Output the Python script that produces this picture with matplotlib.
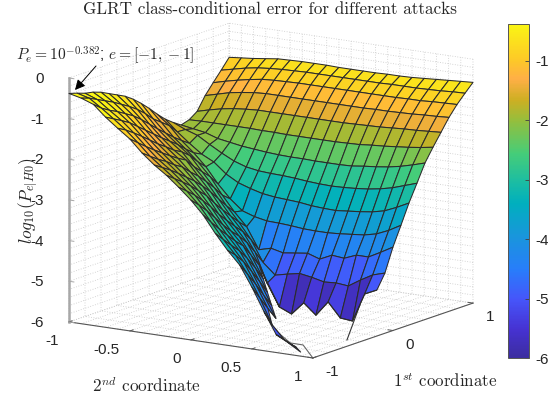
import warnings
import numpy as np
import matplotlib
matplotlib.use("Agg")
import matplotlib.pyplot as plt
from matplotlib.colors import LinearSegmentedColormap, Normalize
from matplotlib.cm import ScalarMappable
from matplotlib.transforms import Affine2D
from mpl_toolkits.mplot3d import proj3d

warnings.filterwarnings('ignore')
N = np.nan
first_coord = [-1 + 0.1 * k for k in range(21)]
second_coord = [-1 + 0.1 * k for k in range(21)]

# one row per value of the 1st coordinate, from -1 to 1
r00 = [-.38,-.45,-.56,-.83,-1.06,-1.28,-1.58,-1.83,-2.04,-2.29,-2.56,-2.88,-3.29,-3.66,-3.98,-4.48,-5.04,-5.56,-5.72,-5.90,N]
r01 = [-.44,-.52,-.72,-.94,-1.17,-1.44,-1.73,-1.96,-2.19,-2.45,-2.75,-3.13,-3.51,-3.85,-4.28,-4.82,-5.43,-5.75,-5.90,N,N]
r02 = [-.51,-.62,-.84,-1.05,-1.31,-1.60,-1.87,-2.09,-2.34,-2.62,-2.96,-3.36,-3.72,-4.08,-4.59,-5.14,N,N,N,N,N]
r03 = [-.55,-.72,-.94,-1.17,-1.46,-1.75,-1.99,-2.24,-2.50,-2.82,-3.20,-3.58,-3.92,-4.38,-4.93,-5.45,N,N,N,N,N]
r04 = [-.62,-.82,-1.06,-1.33,-1.62,-1.89,-2.14,-2.40,-2.69,-3.04,-3.44,-3.79,-4.18,-4.70,-5.25,N,N,N,N,N,N]
r05 = [-.72,-.94,-1.18,-1.49,-1.78,-2.03,-2.26,-2.56,-2.88,-3.29,-3.66,-3.98,-4.48,-5.04,N,N,N,N,N,N,N]
r06 = [-.82,-1.06,-1.34,-1.65,-1.92,-2.16,-2.45,-2.75,-3.13,-3.51,-3.85,-4.28,-4.82,N,N,N,N,N,N,N,N]
r07 = [-.92,-1.20,-1.52,-1.81,-2.07,-2.27,-2.62,-2.96,-3.36,-3.72,-4.08,-4.59,N,N,N,N,N,N,N,N,N]
r08 = [-1.06,-1.37,-1.70,-1.96,-2.18,-2.50,-2.82,-3.20,-3.58,-3.92,-4.38,-5.10,-5.64,-5.77,-5.45,-5.71,-5.34,-5.69,-5.72,-5.01,-4.87]
r09 = [-1.23,-1.57,-1.87,-2.11,-2.34,-2.69,-3.04,-3.44,-3.79,-4.18,-4.70,-4.97,-4.90,-4.84,-4.89,-4.96,-4.94,-4.97,-4.78,-4.61,-4.52]
r10 = [-1.42,-1.72,-2.04,-2.29,-2.56,-2.88,-3.29,-3.66,-3.98,-4.50,-4.42,-4.49,-4.45,-4.41,-4.51,-4.37,-4.40,-4.28,-4.28,-4.12,-3.95]
r11 = [-1.63,-1.87,-2.19,-2.45,-2.75,-3.13,-3.45,-3.70,-3.80,-3.86,-3.87,-3.89,-3.92,-3.93,-3.93,-3.91,-3.88,-3.85,-3.78,-3.65,-3.48]
r12 = [-1.82,-2.09,-2.33,-2.55,-2.70,-2.95,-3.12,-3.22,-3.30,-3.34,-3.36,-3.38,-3.42,-3.44,-3.45,-3.42,-3.39,-3.35,-3.28,-3.15,-3.00]
r13 = [-1.97,-2.10,-2.20,-2.38,-2.55,-2.70,-2.80,-2.85,-2.87,-2.88,-2.90,-2.93,-2.95,-2.96,-2.95,-2.93,-2.90,-2.85,-2.78,-2.68,-2.58]
r14 = [-2.10,-2.15,-2.20,-2.30,-2.35,-2.40,-2.43,-2.46,-2.48,-2.49,-2.49,-2.50,-2.50,-2.50,-2.49,-2.45,-2.42,-2.38,-2.32,-2.24,-2.15]
r15 = [-2.04,-2.03,-2.03,-2.03,-2.03,-2.03,-2.04,-2.04,-2.05,-2.05,-2.05,-2.05,-2.05,-2.04,-2.03,-2.00,-1.98,-1.95,-1.92,-1.88,-1.83]
r16 = [-1.90,-1.82,-1.75,-1.70,-1.67,-1.65,-1.65,-1.65,-1.65,-1.65,-1.65,-1.65,-1.65,-1.64,-1.63,-1.62,-1.60,-1.58,-1.57,-1.55,-1.53]
r17 = [-1.58,-1.50,-1.42,-1.37,-1.33,-1.31,-1.31,-1.31,-1.31,-1.31,-1.31,-1.31,-1.31,-1.31,-1.30,-1.30,-1.29,-1.28,-1.26,-1.25,-1.23]
r18 = [-1.33,-1.25,-1.18,-1.12,-1.07,-1.05,-1.04,-1.03,-1.03,-1.03,-1.03,-1.03,-1.03,-1.03,-1.03,-1.03,-1.02,-1.02,-1.00,-.99,-.98]
r19 = [-1.09,-1.02,-.95,-.90,-.87,-.85,-.84,-.83,-.83,-.83,-.83,-.83,-.83,-.83,-.82,-.82,-.82,-.81,-.80,-.78,-.77]
r20 = [-.84,-.81,-.78,-.74,-.70,-.69,-.68,-.68,-.68,-.69,-.69,-.69,-.69,-.68,-.68,-.67,-.65,-.63,-.61,-.59,-.57]
rows = [r00,r01,r02,r03,r04,r05,r06,r07,r08,r09,r10,r11,r12,r13,r14,r15,r16,r17,r18,r19,r20]

# edges of the surface that reach the floor where the error vanishes
edge_a_second = [0.895, 0.90]
edge_a_first = [-0.414, -0.26]
edge_a_z = [-6.0, -5.24]
edge_b_second = [1.0, 0.727, 0.62, 0.386]
edge_b_first = [-1.0, -0.706, -0.703, -0.493]
edge_b_z = [-6.0, -6.0, -6.0, -6.0]

second_ticks = [-1, -0.5, 0, 0.5, 1]
second_labels = ['-1', '-0.5', '0', '0.5', '1']
first_ticks = [-1, 0, 1]
first_labels = ['-1', '0', '1']
z_ticks = [-6, -5, -4, -3, -2, -1, 0]
z_labels = ['-6', '-5', '-4', '-3', '-2', '-1', '0']
cbar_ticks = [-6, -5, -4, -3, -2, -1]
cbar_labels = ['-6', '-5', '-4', '-3', '-2', '-1']
z_min, z_peak = -6.0, -0.382
perspective_lift = 0.035

cmap_stops = [0.0, 0.085, 0.174, 0.264, 0.364, 0.463, 0.533, 0.613, 0.713, 0.773, 0.837, 0.892, 1.0]
cmap_rgb = [(60, 45, 160), (70, 50, 210), (70, 85, 250), (40, 125, 250), (25, 150, 220),
            (0, 175, 190), (30, 190, 160), (70, 205, 120), (150, 190, 60), (205, 175, 35),
            (255, 175, 70), (253, 200, 40), (250, 245, 20)]
parula = LinearSegmentedColormap.from_list(
    'parula', [(s, tuple(c / 255 for c in rgb)) for s, rgb in zip(cmap_stops, cmap_rgb)], N=256)

W, H = 556, 401
plt.rcParams['font.family'] = ['Liberation Sans', 'DejaVu Sans']
plt.rcParams['mathtext.fontset'] = 'cm'
fig = plt.figure(figsize=(W / 100, H / 100), dpi=100, facecolor='white')
ax = fig.add_axes([0, 0, 1, 1], projection='3d', proj_type='ortho', facecolor='none')
ax.view_init(elev=13, azim=-56.7)
ax.set_box_aspect((1, 1, 0.858))
ax.set_xlim(-1, 1); ax.set_ylim(-1, 1); ax.set_zlim(-6, 0)

Z = np.array(rows, dtype=float)
X, Y = np.meshgrid(second_coord, first_coord)
norm = Normalize(z_min, z_peak)
Z_fill = np.nan_to_num(Z, nan=z_min)
colors = parula(norm(Z_fill + perspective_lift * (Z_fill - z_min)))
ax.plot_surface(X, Y, Z, rstride=1, cstride=1, facecolors=colors, shade=False,
                edgecolor='#2b2b2b', linewidth=0.75, antialiased=True)
ax.plot(edge_a_second, edge_a_first, edge_a_z, color='#333333', lw=0.8)
ax.plot(edge_b_second, edge_b_first, edge_b_z, color='#666666', lw=0.8)

# fine dotted grid, only the coarse ticks carry labels
fine_x = [-1 + 0.1 * k for k in range(21)]
fine_y = [-1 + 0.2 * k for k in range(11)]
fine_z = [-6 + 0.2 * k for k in range(31)]
ax.set_xticks(fine_x); ax.set_yticks(fine_y); ax.set_zticks(fine_z)
def lab(fine, ticks, labels):
    return [next((l for t, l in zip(ticks, labels) if abs(t - v) < 1e-6), '') for v in fine]
ax.set_xticklabels(lab(fine_x, second_ticks, second_labels))
ax.set_yticklabels(lab(fine_y, first_ticks, first_labels))
ax.set_zticklabels(lab(fine_z, z_ticks, z_labels))
for a, col in ((ax.xaxis, '#555555'), (ax.yaxis, '#555555'), (ax.zaxis, '#a8a8a8')):
    a.set_pane_color((1, 1, 1, 0))
    a.pane.set_edgecolor((1, 1, 1, 0))
    a._axinfo['grid'].update(color='#c8c8c8', linewidth=0.6, linestyle=(0, (1, 2)))
    a._axinfo['tick'].update(inward_factor=0, outward_factor=0)
    a._axinfo['axisline'].update(color=col, linewidth=1.0)
    a.line.set_color(col)
ax.zaxis.line.set_linewidth(1.8)
ax.tick_params(axis='both', labelsize=11, labelcolor='#262626', colors='#262626', pad=0)
ax.xaxis.set_tick_params(pad=3)
ax.yaxis.set_tick_params(pad=1)
ax.zaxis.set_tick_params(pad=3)
ax.zaxis.set_ticks_position('lower')
ax.zaxis.set_label_position('lower')

# short inward tick marks on the labelled positions
for v in second_ticks:
    ax.plot([v, v], [-1, -0.96], [-6, -6], color='#555555', lw=0.7)
for v in first_ticks:
    ax.plot([1, 0.96], [v, v], [-6, -6], color='#555555', lw=0.7)
for v in z_ticks:
    ax.plot([-1, -0.96], [-1, -1], [v, v], color='#a8a8a8', lw=0.7)

# fit the axes box to the reference floor corners
def px(x, y, z):
    xs, ys, _ = proj3d.proj_transform(x, y, z, ax.get_proj())
    return ax.transData.transform((xs, ys))
fig.canvas.draw()
target_l = np.array([69, H - 322.0]); target_r = np.array([473, H - 303.0])
for _ in range(3):
    pl, pr = px(-1, -1, -6), px(1, 1, -6)
    s = np.linalg.norm(target_r - target_l) / np.linalg.norm(pr - pl)
    pos = ax.get_position(original=True)
    w, h = pos.width * W * s, pos.height * H * s
    mid_now = (pl + pr) / 2
    c = np.array([pos.x0 * W + pos.width * W / 2, pos.y0 * H + pos.height * H / 2])
    c_new = (target_l + target_r) / 2 + (c - mid_now) * s
    ax.set_position([(c_new[0] - w / 2) / W, (c_new[1] - h / 2) / H, w / W, h / H])
    fig.canvas.draw()

# nudge tick labels (pixels) and align them as in the reference
def nudge(axis, dx, dy, ha):
    for t in axis.get_major_ticks():
        t.label1.set_transform(ax.transData + Affine2D().translate(dx, dy))
        t.label1.set_ha(ha)
        t.label1.set_va('center')
nudge(ax.xaxis, -2, 11, 'right')
nudge(ax.yaxis, -2, 6.5, 'left')
nudge(ax.zaxis, 12, 6, 'right')

fig.text(270 / W, 1 - 9 / H, 'GLRT class-conditional error for different attacks',
         family='cmr10', fontsize=12.3, ha='center', va='center', color='#262626')
fig.text(146 / W, 1 - 385 / H, r'$2^{nd}$ coordinate', family='cmr10', fontsize=12.3,
         ha='center', va='center', color='#262626')
fig.text(445 / W, 1 - 381 / H, r'$1^{st}$ coordinate', family='cmr10', fontsize=12.2,
         ha='center', va='center', color='#262626')
fig.text(29 / W, 1 - 201 / H, r'$log_{10}(P_{e|H0})$', fontsize=12.5, rotation=90,
         ha='center', va='center', color='#262626')
fig.text(16 / W, 1 - 55 / H, r'$P_e=10^{-0.382}$; $e=[-1,-1]$', fontsize=11.2,
         ha='left', va='center', color='#262626')
ax.annotate('', xy=(75 / W, 1 - 90 / H), xytext=(96 / W, 1 - 66 / H),
            xycoords='figure fraction', textcoords='figure fraction',
            arrowprops=dict(arrowstyle='-|>', color='black', lw=0.7, mutation_scale=15,
                            shrinkA=0, shrinkB=0))

cax = fig.add_axes([508 / W, 1 - 358 / H, 20.5 / W, 334 / H])
cb = fig.colorbar(ScalarMappable(norm=norm, cmap=parula), cax=cax)
cb.set_ticks(cbar_ticks, labels=cbar_labels)
cax.tick_params(direction='in', length=3, width=0.6, color='#404040', labelsize=11,
                labelcolor='#262626', pad=5)
cb.outline.set_edgecolor('#555555')
cb.outline.set_linewidth(0.7)
fig.savefig('out.png', dpi=100)
